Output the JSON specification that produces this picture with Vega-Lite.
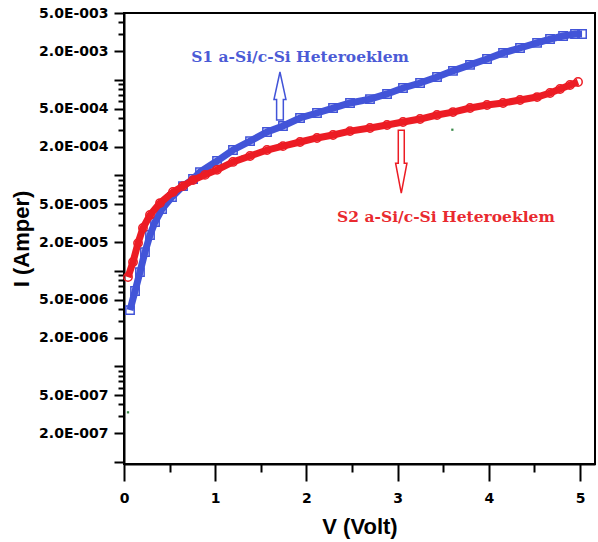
{
  "$schema": "https://vega.github.io/schema/vega-lite/v6.json",
  "width": 471,
  "height": 451,
  "autosize": {"type": "none"},
  "padding": {"left": 124, "top": 13, "right": 3, "bottom": 78},
  "background": "white",
  "config": {
    "view": {"stroke": "black", "strokeWidth": 2},
    "axis": {
      "grid": false,
      "domainColor": "black",
      "domainWidth": 2,
      "tickColor": "black",
      "tickWidth": 2,
      "labelFont": "DejaVu Sans",
      "labelFontWeight": "bold",
      "labelFontSize": 14,
      "labelColor": "black",
      "labelOverlap": false,
      "labelFlush": false,
      "titleFont": "Liberation Sans",
      "titleFontWeight": "bold",
      "titleFontSize": 22,
      "titleColor": "black"
    }
  },
  "datasets": {
    "iv": [
      {"s": "S1", "V": 0.066, "I": 3.88e-6},
      {"s": "S1", "V": 0.121, "I": 6.14e-6},
      {"s": "S1", "V": 0.175, "I": 9.7e-6},
      {"s": "S1", "V": 0.23, "I": 1.57e-5},
      {"s": "S1", "V": 0.285, "I": 2.37e-5},
      {"s": "S1", "V": 0.34, "I": 3.24e-5},
      {"s": "S1", "V": 0.417, "I": 4.43e-5},
      {"s": "S1", "V": 0.526, "I": 5.92e-5},
      {"s": "S1", "V": 0.647, "I": 7.71e-5},
      {"s": "S1", "V": 0.757, "I": 9.14e-5},
      {"s": "S1", "V": 0.833, "I": 1.08e-4},
      {"s": "S1", "V": 1.02, "I": 1.41e-4},
      {"s": "S1", "V": 1.195, "I": 1.84e-4},
      {"s": "S1", "V": 1.382, "I": 2.28e-4},
      {"s": "S1", "V": 1.568, "I": 2.84e-4},
      {"s": "S1", "V": 1.743, "I": 3.28e-4},
      {"s": "S1", "V": 1.93, "I": 3.98e-4},
      {"s": "S1", "V": 2.116, "I": 4.49e-4},
      {"s": "S1", "V": 2.292, "I": 5.06e-4},
      {"s": "S1", "V": 2.478, "I": 5.71e-4},
      {"s": "S1", "V": 2.697, "I": 6.28e-4},
      {"s": "S1", "V": 2.884, "I": 7.1e-4},
      {"s": "S1", "V": 3.059, "I": 8.2e-4},
      {"s": "S1", "V": 3.246, "I": 9.25e-4},
      {"s": "S1", "V": 3.432, "I": 1.07e-3},
      {"s": "S1", "V": 3.607, "I": 1.24e-3},
      {"s": "S1", "V": 3.794, "I": 1.43e-3},
      {"s": "S1", "V": 3.98, "I": 1.65e-3},
      {"s": "S1", "V": 4.156, "I": 1.91e-3},
      {"s": "S1", "V": 4.342, "I": 2.15e-3},
      {"s": "S1", "V": 4.529, "I": 2.43e-3},
      {"s": "S1", "V": 4.671, "I": 2.67e-3},
      {"s": "S1", "V": 4.814, "I": 2.87e-3},
      {"s": "S1", "V": 4.945, "I": 3.01e-3},
      {"s": "S1", "V": 5.022, "I": 3.01e-3},
      {"s": "S2", "V": 0.044, "I": 8.61e-6},
      {"s": "S2", "V": 0.099, "I": 1.24e-5},
      {"s": "S2", "V": 0.154, "I": 1.95e-5},
      {"s": "S2", "V": 0.208, "I": 2.81e-5},
      {"s": "S2", "V": 0.285, "I": 3.84e-5},
      {"s": "S2", "V": 0.395, "I": 5.12e-5},
      {"s": "S2", "V": 0.537, "I": 6.68e-5},
      {"s": "S2", "V": 0.647, "I": 7.71e-5},
      {"s": "S2", "V": 0.757, "I": 8.91e-5},
      {"s": "S2", "V": 0.888, "I": 1.01e-4},
      {"s": "S2", "V": 1.02, "I": 1.14e-4},
      {"s": "S2", "V": 1.195, "I": 1.38e-4},
      {"s": "S2", "V": 1.382, "I": 1.59e-4},
      {"s": "S2", "V": 1.568, "I": 1.84e-4},
      {"s": "S2", "V": 1.743, "I": 2.02e-4},
      {"s": "S2", "V": 1.93, "I": 2.23e-4},
      {"s": "S2", "V": 2.116, "I": 2.46e-4},
      {"s": "S2", "V": 2.292, "I": 2.64e-4},
      {"s": "S2", "V": 2.478, "I": 2.9e-4},
      {"s": "S2", "V": 2.697, "I": 3.13e-4},
      {"s": "S2", "V": 2.884, "I": 3.36e-4},
      {"s": "S2", "V": 3.059, "I": 3.61e-4},
      {"s": "S2", "V": 3.246, "I": 3.88e-4},
      {"s": "S2", "V": 3.432, "I": 4.28e-4},
      {"s": "S2", "V": 3.607, "I": 4.59e-4},
      {"s": "S2", "V": 3.794, "I": 5.06e-4},
      {"s": "S2", "V": 3.98, "I": 5.44e-4},
      {"s": "S2", "V": 4.156, "I": 5.71e-4},
      {"s": "S2", "V": 4.342, "I": 6.14e-4},
      {"s": "S2", "V": 4.529, "I": 6.59e-4},
      {"s": "S2", "V": 4.671, "I": 7.26e-4},
      {"s": "S2", "V": 4.781, "I": 8.0e-4},
      {"s": "S2", "V": 4.89, "I": 8.81e-4},
      {"s": "S2", "V": 4.978, "I": 9.47e-4},
      {"s": "G", "V": 0.044, "I": 3.3e-7},
      {"s": "G", "V": 0.5, "I": 6.6e-5},
      {"s": "G", "V": 0.9, "I": 1.06e-4},
      {"s": "G", "V": 1.3, "I": 1.58e-4},
      {"s": "G", "V": 1.7, "I": 2.1e-4},
      {"s": "G", "V": 2.1, "I": 2.58e-4},
      {"s": "G", "V": 2.5, "I": 3.05e-4},
      {"s": "G", "V": 2.9, "I": 3.5e-4},
      {"s": "G", "V": 3.3, "I": 4.05e-4},
      {"s": "G", "V": 3.6, "I": 3.0e-4}
    ],
    "notes": [
      {"s": "S1", "label": "S1 a-Si/c-Si Heteroeklem", "V": 1.93, "I": 0.00173},
      {"s": "S2", "label": "S2 a-Si/c-Si Heteroeklem", "V": 3.53, "I": 0.0000366}
    ],
    "arrows": [
      {"s": "S1", "V": 1.71, "I": 0.000676},
      {"s": "S2", "V": 3.04, "I": 0.000139}
    ]
  },
  "layer": [
    {
      "data": {"name": "iv"},
      "transform": [{"filter": "datum.s === 'S1'"}],
      "mark": {"type": "line", "color": "#4254d8", "strokeWidth": 7},
      "encoding": {
        "x": {"field": "V", "type": "quantitative", "scale": {"domain": [0, 5.164], "nice": false, "zero": false},
          "axis": {"orient": "bottom", "values": [0, 1, 2, 3, 4, 5], "format": "d", "tickSize": 17, "labelPadding": 10, "title": "V (Volt)", "titlePadding": 11}},
        "y": {"field": "I", "type": "quantitative", "scale": {"type": "log", "domain": [9.5e-8, 5e-3], "nice": false},
          "axis": {"orient": "left", "values": [1e-7, 2e-7, 5e-7, 1e-6, 2e-6, 5e-6, 1e-5, 2e-5, 5e-5, 1e-4, 2e-4, 5e-4, 1e-3, 2e-3, 5e-3],
            "tickSize": 10, "labelPadding": 6, "title": "I (Amper)", "titlePadding": 5,
            "labelExpr": "round(datum.value / pow(10, floor(log(datum.value) / LN10 + 1e-6))) == 1 ? '' : format(datum.value / pow(10, floor(log(datum.value) / LN10 + 1e-6)), '.1f') + 'E-00' + (-floor(log(datum.value) / LN10 + 1e-6))"}}
      }
    },
    {
      "data": {"name": "iv"},
      "transform": [{"filter": "datum.s === 'S1'"}],
      "mark": {"type": "point", "shape": "square", "filled": false, "color": "#4254d8", "size": 70, "strokeWidth": 1.5, "opacity": 1},
      "encoding": {
        "x": {"field": "V", "type": "quantitative", "scale": {"domain": [0, 5.164], "nice": false, "zero": false}, "axis": null},
        "y": {"field": "I", "type": "quantitative", "scale": {"type": "log", "domain": [9.5e-8, 5e-3], "nice": false}, "axis": null}
      }
    },
    {
      "data": {"name": "iv"},
      "transform": [{"filter": "datum.s === 'G'"}],
      "mark": {"type": "point", "shape": "square", "filled": true, "color": "#3a8a4a", "size": 5, "opacity": 1},
      "encoding": {
        "x": {"field": "V", "type": "quantitative", "scale": {"domain": [0, 5.164], "nice": false, "zero": false}, "axis": null},
        "y": {"field": "I", "type": "quantitative", "scale": {"type": "log", "domain": [9.5e-8, 5e-3], "nice": false}, "axis": null}
      }
    },
    {
      "data": {"name": "iv"},
      "transform": [{"filter": "datum.s === 'S2'"}],
      "mark": {"type": "line", "color": "#ec1c24", "strokeWidth": 7},
      "encoding": {
        "x": {"field": "V", "type": "quantitative", "scale": {"domain": [0, 5.164], "nice": false, "zero": false},
          "axis": {"orient": "bottom", "values": [0.5, 1.5, 2.5, 3.5, 4.5], "tickSize": 8, "labels": false, "domain": false, "title": null}},
        "y": {"field": "I", "type": "quantitative", "scale": {"type": "log", "domain": [9.5e-8, 5e-3], "nice": false},
          "axis": {"orient": "left", "values": [3e-7, 4e-7, 6e-7, 7e-7, 8e-7, 9e-7, 3e-6, 4e-6, 6e-6, 7e-6, 8e-6, 9e-6, 3e-5, 4e-5, 6e-5, 7e-5, 8e-5, 9e-5, 3e-4, 4e-4, 6e-4, 7e-4, 8e-4, 9e-4, 3e-3, 4e-3],
            "tickSize": 6, "labels": false, "domain": false, "title": null}}
      }
    },
    {
      "data": {"name": "iv"},
      "transform": [{"filter": "datum.s === 'S2'"}],
      "mark": {"type": "point", "shape": "circle", "filled": false, "color": "#ec1c24", "size": 70, "strokeWidth": 1.5, "opacity": 1},
      "encoding": {
        "x": {"field": "V", "type": "quantitative", "scale": {"domain": [0, 5.164], "nice": false, "zero": false}, "axis": null},
        "y": {"field": "I", "type": "quantitative", "scale": {"type": "log", "domain": [9.5e-8, 5e-3], "nice": false}, "axis": null}
      }
    },
    {
      "data": {"name": "arrows"},
      "transform": [{"filter": "datum.s === 'S1'"}],
      "mark": {"type": "point", "filled": false, "color": "#4254d8", "strokeWidth": 1.5, "opacity": 1, "size": 2304,
        "shape": "M0,-1 L0.25,0.15 L0.14,0.15 L0.14,1 L-0.14,1 L-0.14,0.15 L-0.25,0.15 Z"},
      "encoding": {
        "x": {"field": "V", "type": "quantitative", "scale": {"domain": [0, 5.164], "nice": false, "zero": false}, "axis": null},
        "y": {"field": "I", "type": "quantitative", "scale": {"type": "log", "domain": [9.5e-8, 5e-3], "nice": false}, "axis": null}
      }
    },
    {
      "data": {"name": "arrows"},
      "transform": [{"filter": "datum.s === 'S2'"}],
      "mark": {"type": "point", "filled": false, "color": "#ec1c24", "strokeWidth": 1.5, "opacity": 1, "size": 3969,
        "shape": "M0,1 L0.18,0.05 L0.095,0.05 L0.095,-1 L-0.095,-1 L-0.095,0.05 L-0.18,0.05 Z"},
      "encoding": {
        "x": {"field": "V", "type": "quantitative", "scale": {"domain": [0, 5.164], "nice": false, "zero": false}, "axis": null},
        "y": {"field": "I", "type": "quantitative", "scale": {"type": "log", "domain": [9.5e-8, 5e-3], "nice": false}, "axis": null}
      }
    },
    {
      "data": {"name": "notes"},
      "mark": {"type": "text", "font": "DejaVu Serif", "fontWeight": "bold", "fontSize": 15.5, "align": "center", "baseline": "middle"},
      "encoding": {
        "x": {"field": "V", "type": "quantitative", "scale": {"domain": [0, 5.164], "nice": false, "zero": false}, "axis": null},
        "y": {"field": "I", "type": "quantitative", "scale": {"type": "log", "domain": [9.5e-8, 5e-3], "nice": false}, "axis": null},
        "text": {"field": "label"},
        "color": {"field": "s", "type": "nominal", "scale": {"domain": ["S1", "S2"], "range": ["#4b5bd6", "#e92a2f"]}, "legend": null}
      }
    }
  ],
  "resolve": {"axis": {"x": "independent", "y": "independent"}}
}
